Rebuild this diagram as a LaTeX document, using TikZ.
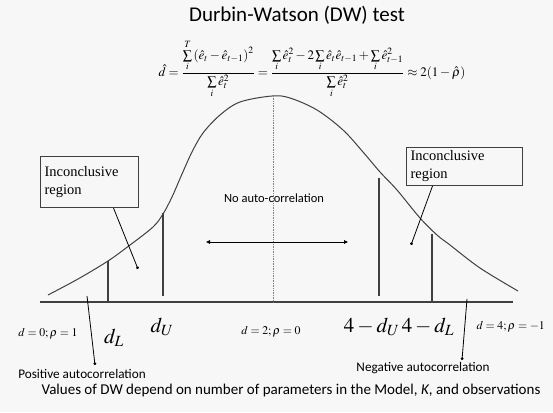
\documentclass[tikz,border=0pt]{standalone}
\usepackage{mathptmx}
\usepackage{amsmath}
\usepackage{fontspec}
\setmainfont{Liberation Serif}
\newfontfamily\calibri{Carlito}
\usetikzlibrary{arrows.meta,positioning,calc}
\definecolor{bgcol}{RGB}{247,247,247}
\definecolor{linecol}{RGB}{64,64,64}

\begin{document}
\begin{tikzpicture}[x=1pt,y=-1pt,
    curve/.style={draw=linecol, line width=1pt},
    markline/.style={draw=linecol, line width=1.1pt},
    infobox/.style={draw=linecol, line width=1pt, align=left, inner xsep=4pt,
        font=\fontsize{14.5}{18}\selectfont},
    pointer/.style={draw=black, line width=0.8pt, -{Circle[length=2.8pt]}},
    sanslabel/.style={font=\calibri\fontsize{13.2}{15}\selectfont},
    dlabel/.style={font=\fontsize{21}{23}\selectfont},
    smalllabel/.style={font=\fontsize{11.8}{13}\selectfont}]

    % Background
    \fill[bgcol] (0,0) rectangle (553,412);
    \useasboundingbox (0,0) rectangle (553,412);

    % Title and formula
    \node (title) at (297,15) {\calibri\fontsize{21}{24}\selectfont Durbin-Watson (DW) test};
    \node[font=\fontsize{13}{15}\selectfont] (formula) at (312,69)
        {$\hat{d}=\dfrac{\sum\limits_i^T\left(\hat{e}_t-\hat{e}_{t-1}\right)^2}{\sum\limits_i\hat{e}_t^2}
        =\dfrac{\sum\limits_i\hat{e}_t^2-2\sum\limits_i\hat{e}_t\hat{e}_{t-1}+\sum\limits_i\hat{e}_{t-1}^2}{\sum\limits_i\hat{e}_t^2}
        \approx 2(1-\hat{\rho})$};

    % Axis
    \coordinate (axisL) at (40,302);
    \coordinate (axisR) at (513,302);
    \draw[markline] (axisL) -- (axisR);

    % Bell curve
    \draw[curve] plot[smooth, tension=0.55] coordinates {
        (48,295) (78,279) (108,261) (130,245) (153,227) (163,214) (172,197)
        (182,174) (192,152) (203,133) (220,115) (240,102) (272,96)
        (290,98) (317,110) (343,130) (363,152) (380,172) (397,190)
        (420,218) (437,235) (450,245) (480,268) (518,291)};

    % Centre line
    \coordinate (peak) at (273,96);
    \coordinate (mid) at (273,302);
    \draw[gray, line width=0.7pt, densely dotted] (peak) -- (mid);

    % Critical values
    \coordinate (dLtop) at (108,261);   \coordinate (dLbot) at (108,302);
    \coordinate (dUtop) at (163,213);   \coordinate (dUbot) at (163,296);
    \coordinate (uUtop) at (379,178);   \coordinate (uUbot) at (379,296);
    \coordinate (uLtop) at (432,234);   \coordinate (uLbot) at (432,302);
    \draw[markline] (dLtop) -- (dLbot);
    \draw[markline] (dUtop) -- (dUbot);
    \draw[markline] (uUtop) -- (uUbot);
    \draw[markline] (uLtop) -- (uLbot);

    % Axis labels
    \node[smalllabel] (dzero) at (48,334) {$d=0;\rho=1$};
    \node[dlabel] (dL) at (114,338) {$d_L$};
    \node[dlabel] (dU) at (162,327) {$d_U$};
    \node[smalllabel] (dtwo) at (271,332) {$d=2;\rho=0$};
    \node[dlabel] (upper) at (399,327) {$4-d_U\,4-d_L$};
    \node[smalllabel, anchor=west] (dfour) at (473,327) {$d=4;\rho=-1$};

    % No auto-correlation
    \node[sanslabel, font=\calibri\fontsize{12.5}{14}\selectfont] (noauto) at (274,198) {No auto-correlation};
    \coordinate (arrL) at (206,242);
    \coordinate (arrR) at (348,242);
    \draw[line width=0.9pt, {Triangle[length=4pt,width=3.5pt]}-{Triangle[length=4pt,width=3.5pt]}] (arrL) -- (arrR);

    % Inconclusive regions
    \node[infobox, anchor=north west, text width=90pt, minimum height=51pt] (lbox) at (40,156)
        {Inconclusive\\region};
    \node[infobox, anchor=north west, text width=108pt, minimum height=38pt, inner ysep=0pt] (rbox) at (406,147)
        {Inconclusive\\region};
    \coordinate (ldot) at (138,269);
    \coordinate (rdot) at (411,245);
    \draw[pointer] ([xshift=24pt]lbox.south) -- (ldot);
    \draw[pointer] ([xshift=-32pt]rbox.south) -- (rdot);

    % Positive / negative autocorrelation
    \node[sanslabel] (pos) at (82,374) {Positive autocorrelation};
    \node[sanslabel] (neg) at (423,368) {Negative autocorrelation};
    \coordinate (pstart) at (87,296);
    \coordinate (pdot) at (95,365);
    \coordinate (nstart) at (467,299);
    \coordinate (ndot) at (462,360);
    \draw[pointer] (pstart) -- (pdot);
    \draw[pointer] (nstart) -- (ndot);

    % Note
    \node[font=\calibri\fontsize{15}{17}\selectfont] (note) at (291,390)
        {Values of DW depend on number of parameters in the Model, \textit{K}, and observations};
\end{tikzpicture}
\end{document}
